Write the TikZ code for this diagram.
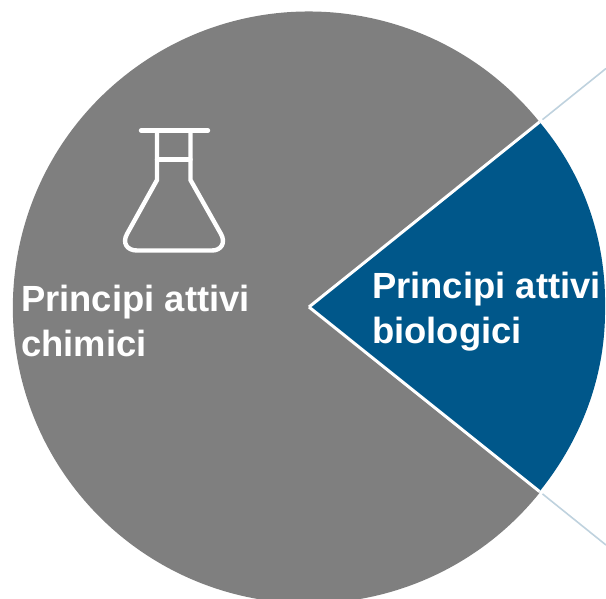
\documentclass[tikz,border=0pt]{standalone}
\usepackage{fontspec}
\setmainfont{Liberation Sans}
\definecolor{greyslice}{HTML}{7F7F7F}
\definecolor{blueslice}{HTML}{00578A}
\definecolor{leader}{HTML}{BFD2DE}
\tikzset{
  slicetext/.style={text=white,font=\fontsize{36.4}{45}\selectfont\bfseries,align=left,anchor=base west,inner sep=0pt},
  flaskline/.style={draw=white,line width=4.4pt,line join=round,line cap=round},
  leaderline/.style={draw=leader,line width=1.6pt}
}
\begin{document}
\begin{tikzpicture}[x=1pt,y=-1pt]
\useasboundingbox (0,0) rectangle (606,598);
\clip (0,0) rectangle (606,598);
\coordinate (c) at (309,307);
\coordinate (up) at (539.5,122);
\coordinate (down) at (539.5,491.5);
\coordinate (upend) at (606,68.5);
\coordinate (downend) at (606,545);
\fill[greyslice] (c) -- (up) arc[start angle=-38.8,end angle=-321.2,radius=296,x radius=296pt,y radius=-296pt] -- cycle;
\fill[blueslice] (c) -- (up) .. controls (590,182) and (606,250) .. (605,307) .. controls (606,370) and (585,435) .. (down) -- cycle;
\draw[white,line width=3pt] (c) -- (up) (c) -- (down);
\draw[leaderline] (up) ++(3,-2.4) -- (upend);
\draw[leaderline] (down) ++(3,2.4) -- (downend);
\draw[flaskline] (141,130.5) -- (208,130.5);
\draw[flaskline] (157,130.5) -- (157,180) -- (127,234) .. controls (122,243) and (127,250.5) .. (137,250.5) -- (212,250.5) .. controls (221,250.5) and (226,243) .. (221,234) -- (190.5,180) -- (190.5,130.5);
\draw[flaskline] (157,159.5) -- (190.5,159.5);
\node[slicetext] (chem) at (21,356) {Principi attivi\\chimici};
\node[slicetext] (bio) at (372,343) {Principi attivi\\biologici};
\end{tikzpicture}
\end{document}
